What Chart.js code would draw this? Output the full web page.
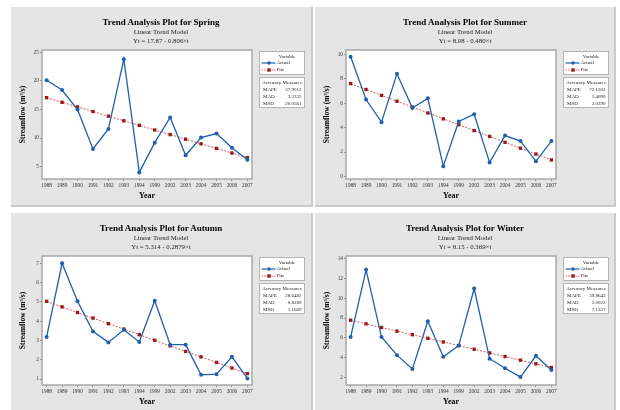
<!DOCTYPE html>
<html>
<head>
<meta charset="utf-8">
<script src="https://cdn.jsdelivr.net/npm/chart.js@4.4.1/dist/chart.umd.min.js"></script>
<style>
  html, body { margin: 0; padding: 0; background: #fff; width: 620px; height: 410px; overflow: hidden; }
  body { position: relative; font-family: 'Liberation Serif', 'Times New Roman', serif; }
  .panel { position: absolute; height: 200px; background: #e5e5e5; border-right: 2px solid #cacaca; border-bottom: 2px solid #cacaca; box-sizing: border-box; }
  .panel canvas { position: absolute; left: 0; top: 0; }
  .t1, .t2, .t3 { position: absolute; left: 0; width: 300px; text-align: center; line-height: 10px; white-space: nowrap; }
  .t1 { top: 10px; font-size: 9px; font-weight: bold; color: #000; }
  .t2 { top: 20px; font-size: 6.8px; color: #222; }
  .t3 { top: 29px; font-size: 6.8px; color: #222; }
  .leg, .acc { position: absolute; left: 248px; width: 46px; background: #fff; border: 1px solid #b4b4b4; box-sizing: border-box; font-size: 5px; color: #222; line-height: 6px; }
  .leg { top: 44px; height: 24px; }
  .acc { top: 70px; height: 31px; }
  .leg .lt { position: absolute; top: 2px; left: 18px; width: 18px; text-align: center; }
  .leg .row { position: absolute; left: 0; width: 44px; height: 6px; }
  .leg .row svg { position: absolute; left: 0; top: 0; }
  .leg .row span { position: absolute; left: 16.5px; top: 0; }
  .acc .ah { position: absolute; top: 1.5px; left: 0; width: 44px; text-align: center; }
  .acc .ar { position: absolute; left: 3px; width: 38.5px; display: flex; justify-content: space-between; }
</style>
</head>
<body>
<script>
const YEARS = ["1988", "1989", "1990", "1991", "1992", "1993", "1994", "1999", "2002", "2003", "2004", "2005", "2006", "2007"];

const SPRING_ACTUAL = [20.1, 18.4, 15.0, 8.1, 11.6, 23.8, 4.0, 9.2, 13.6, 7.0, 10.1, 10.8, 8.3, 6.2];
const SPRING_FITS = [17.06, 16.26, 15.45, 14.65, 13.84, 13.03, 12.23, 11.42, 10.62, 9.81, 9.00, 8.20, 7.39, 6.59];
const SUMMER_ACTUAL = [9.8, 6.3, 4.45, 8.4, 5.6, 6.4, 0.85, 4.5, 5.1, 1.15, 3.35, 2.9, 1.25, 2.9];
const SUMMER_FITS = [7.60, 7.12, 6.64, 6.16, 5.68, 5.20, 4.72, 4.24, 3.76, 3.28, 2.80, 2.32, 1.84, 1.36];
const AUTUMN_ACTUAL = [3.18, 7.0, 5.03, 3.47, 2.9, 3.55, 2.92, 5.06, 2.78, 2.78, 1.22, 1.25, 2.15, 1.03];
const AUTUMN_FITS = [5.03, 4.74, 4.45, 4.16, 3.87, 3.59, 3.30, 3.01, 2.72, 2.43, 2.15, 1.86, 1.57, 1.28];
const WINTER_ACTUAL = [6.07, 12.9, 6.07, 4.23, 2.83, 7.67, 4.07, 5.2, 11.0, 3.87, 2.9, 2.0, 4.17, 2.73];
const WINTER_FITS = [7.78, 7.41, 7.04, 6.67, 6.31, 5.94, 5.57, 5.20, 4.83, 4.46, 4.09, 3.72, 3.35, 2.98];

const MEASURES = ["MAPE", "MAD", "MSD"];
const SPRING_ACC = ["37.9012", "3.3335", "20.0561"];
const SUMMER_ACC = ["72.1303", "1.4090", "3.0390"];
const AUTUMN_ACC = ["28.6482", "0.8289", "1.1669"];
const WINTER_ACC = ["39.8643", "2.0022", "7.1357"];

const EQUATIONS = {
  Spring: "Yt = 17.87 - 0.806×t",
  Summer: "Yt = 8.08 - 0.480×t",
  Autumn: "Yt = 5.314 - 0.2879×t",
  Winter: "Yt = 8.15 - 0.369×t",
};

const BLUE = "#1e5fae";
const RED_LINE = "#cf5a5a";
const RED_PT = "#9e1a1a";
const FONT = "'Liberation Serif', 'Times New Roman', serif";

const PANELS = [
  { name: "Spring", left: 11, top: 7, width: 302, actual: SPRING_ACTUAL, fits: SPRING_FITS, acc: SPRING_ACC, y: { min: 2.85, max: 25.4, step: 5 } },
  { name: "Summer", left: 315, top: 7, width: 301, actual: SUMMER_ACTUAL, fits: SUMMER_FITS, acc: SUMMER_ACC, y: { min: -0.2, max: 10.35, step: 2 } },
  { name: "Autumn", left: 11, top: 213, width: 302, actual: AUTUMN_ACTUAL, fits: AUTUMN_FITS, acc: AUTUMN_ACC, y: { min: 0.69, max: 7.38, step: 1 } },
  { name: "Winter", left: 315, top: 213, width: 301, actual: WINTER_ACTUAL, fits: WINTER_FITS, acc: WINTER_ACC, y: { min: 1.2, max: 14.3, step: 2 } },
];

// fond blanc + cadre gris de la zone de tracé
const framePlugin = {
  id: "frame",
  beforeDraw(chart) {
    const { ctx, chartArea: a } = chart;
    ctx.save();
    ctx.fillStyle = "#fff";
    ctx.fillRect(a.left, a.top, a.right - a.left, a.bottom - a.top);
    ctx.restore();
  },
  beforeDatasetsDraw(chart) {
    const { ctx, chartArea: a } = chart;
    ctx.save();
    ctx.strokeStyle = "#a8a8a8";
    ctx.lineWidth = 1.5;
    ctx.strokeRect(a.left, a.top, a.right - a.left, a.bottom - a.top);
    ctx.restore();
  },
};

const legendSvg = (kind) => kind === "act"
  ? `<svg width="16" height="6"><line x1="1.5" y1="3" x2="15.5" y2="3" stroke="${BLUE}" stroke-width="1.2"/><circle cx="9" cy="3" r="1.7" fill="${BLUE}"/></svg>`
  : `<svg width="16" height="6"><line x1="1.5" y1="3" x2="15.5" y2="3" stroke="${RED_LINE}" stroke-width="0.9" stroke-dasharray="1.5 1"/><rect x="7.3" y="1.3" width="3.4" height="3.4" fill="${RED_PT}"/></svg>`;

function makePanel(p) {
  const el = document.createElement("div");
  el.className = "panel";
  el.style.left = p.left + "px";
  el.style.top = p.top + "px";
  el.style.width = p.width + "px";
  el.innerHTML = `
    <canvas width="${p.width}" height="200"></canvas>
    <div class="t1">Trend Analysis Plot for ${p.name}</div>
    <div class="t2">Linear Trend Model</div>
    <div class="t3">${EQUATIONS[p.name]}</div>
    <div class="leg">
      <div class="lt">Variable</div>
      <div class="row" style="top:8px">${legendSvg("act")}<span>Actual</span></div>
      <div class="row" style="top:15px">${legendSvg("fit")}<span>Fits</span></div>
    </div>
    <div class="acc">
      <div class="ah">Accuracy Measures</div>
      ${MEASURES.map((m, i) => `<div class="ar" style="top:${8.6 + i * 7}px"><span>${m}</span><span>${p.acc[i]}</span></div>`).join("")}
    </div>`;
  document.body.appendChild(el);

  const tickFont = { family: FONT, size: 5.3 };
  new Chart(el.querySelector("canvas"), {
    type: "line",
    data: {
      datasets: [
        {
          label: "Actual", data: p.actual.map((v, i) => ({ x: i, y: v })),
          borderColor: BLUE, backgroundColor: BLUE, borderWidth: 1.3, tension: 0,
          pointStyle: "circle", pointRadius: 2, pointBorderWidth: 0,
        },
        {
          label: "Fits", data: p.fits.map((v, i) => ({ x: i, y: v })),
          borderColor: RED_LINE, backgroundColor: RED_PT, borderWidth: 1, borderDash: [2, 1.5], tension: 0,
          pointStyle: "rect", pointRadius: 2.4, pointBorderWidth: 0,
        },
      ],
    },
    options: {
      responsive: false, animation: false, events: [],
      layout: { padding: { left: 0, top: 43, right: p.width - 241, bottom: 0 } },
      plugins: { legend: { display: false }, tooltip: { enabled: false } },
      scales: {
        x: {
          type: "linear", min: -0.3, max: 13.3,
          afterBuildTicks: (s) => { s.ticks = YEARS.map((_, i) => ({ value: i })); },
          afterFit: (s) => { s.height = 28; },
          grid: { drawOnChartArea: false, drawTicks: true, tickLength: 2, color: "#8a8a8a" },
          border: { display: false },
          ticks: { font: tickFont, color: "#333", padding: 1.5, autoSkip: false, maxRotation: 0, callback: (v) => YEARS[v] },
          title: { display: true, text: "Year", font: { family: FONT, size: 8, weight: "bold" }, color: "#000", padding: { top: 0, bottom: 6 } },
        },
        y: {
          min: p.y.min, max: p.y.max,
          afterFit: (s) => { s.width = 31; },
          grid: { drawOnChartArea: false, drawTicks: true, tickLength: 2, color: "#8a8a8a" },
          border: { display: false },
          ticks: { font: tickFont, color: "#333", padding: 1, stepSize: p.y.step, includeBounds: false },
          title: { display: true, text: "Streamflow (m³/s)", font: { family: FONT, size: 7.5, weight: "bold" }, color: "#000", padding: { top: 7.5, bottom: 0 } },
        },
      },
    },
    plugins: [framePlugin],
  });
}

PANELS.forEach(makePanel);
</script>
</body>
</html>
